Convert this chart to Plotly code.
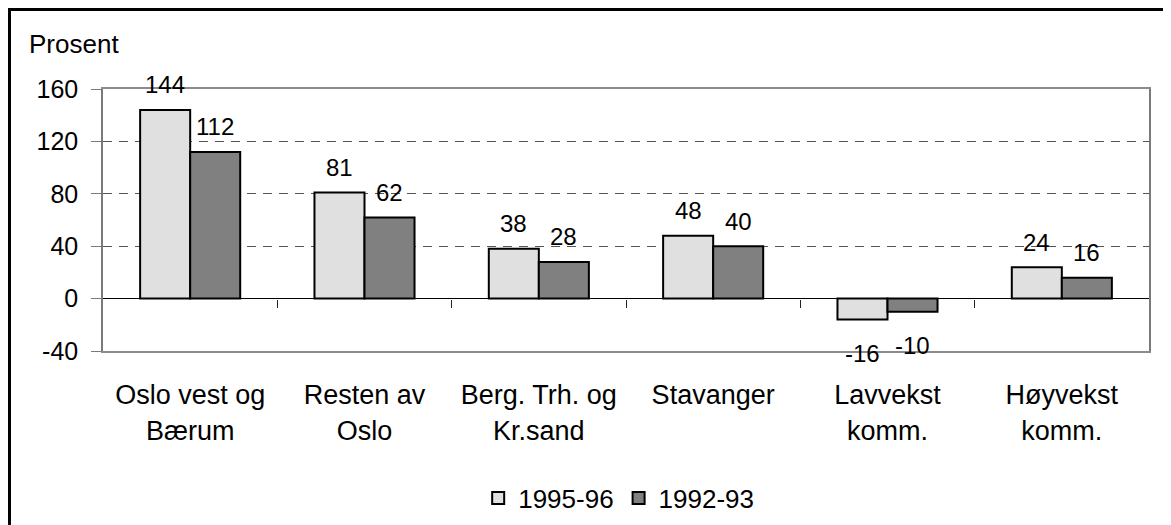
import plotly.graph_objects as go

categories = ["Oslo vest og<br>Bærum", "Resten av<br>Oslo", "Berg. Trh. og<br>Kr.sand",
              "Stavanger", "Lavvekst<br>komm.", "Høyvekst<br>komm."]
vals_9596 = [144, 81, 38, 48, -16, 24]
vals_9293 = [112, 62, 28, 40, -10, 16]
y_ticks = [-40, 0, 40, 80, 120, 160]
y_ticktext = ["-40", "0", "40", "80", "120", "160"]

FONT = "Liberation Sans, Arial, sans-serif"

fig = go.Figure()
fig.add_trace(go.Bar(x=categories, y=vals_9596, name="1995-96",
                     marker_color="#e0e0e0", marker_line_color="black", marker_line_width=2))
fig.add_trace(go.Bar(x=categories, y=vals_9293, name="1992-93",
                     marker_color="#808080", marker_line_color="black", marker_line_width=2))

# value labels (Excel style: above positive bars, well below negative ones)
for vals, shift in [(vals_9596, -25), (vals_9293, 25)]:
    for c, v in zip(categories, vals):
        fig.add_annotation(x=c, y=v, xshift=shift, yshift=25 if v >= 0 else -34,
                           text=str(v), showarrow=False, yanchor="middle",
                           font=dict(size=24, color="black"))

fig.add_annotation(xref="paper", yref="paper", x=-0.0727, y=1.172, xanchor="left",
                   yanchor="middle", text="Prosent", showarrow=False,
                   font=dict(size=26, color="black"))

# outer frame, only top and left visible like the cropped original
fig.add_shape(type="rect", xref="paper", yref="paper", x0=-0.0894, x1=1.2, y0=-1.5, y1=1.3034,
              line=dict(color="black", width=3), layer="above")

fig.update_layout(
    width=1163, height=517,
    margin=dict(l=95, r=22, t=81, b=174, autoexpand=False),
    paper_bgcolor="white", plot_bgcolor="white",
    font=dict(family=FONT, size=25, color="black"),
    barmode="group", bargap=0.426, bargroupgap=0,
    showlegend=True,
    legend=dict(orientation="h", x=0.493, xanchor="center", y=-0.561, yanchor="middle",
                font=dict(size=26), itemwidth=30, tracegroupgap=0),
    xaxis=dict(showline=True, linecolor="#8c8c8c", linewidth=2, mirror=True, automargin=False,
               ticks="", ticklabelstandoff=19, showgrid=False, tickfont=dict(size=27)),
    xaxis2=dict(overlaying="x", anchor="free", position=0.2, range=[-0.5, 5.5],
                tickvals=[0.5, 1.5, 2.5, 3.5, 4.5], ticks="outside", ticklen=8,
                tickcolor="#222", tickwidth=1, showticklabels=False, showgrid=False,
                showline=False, zeroline=False, automargin=False),
    yaxis=dict(range=[-40, 160], tickvals=y_ticks, ticktext=y_ticktext, showline=True,
               linecolor="#7a7a7a", linewidth=1.5, mirror=True, ticks="outside", ticklen=10,
               tickcolor="#7a7a7a", ticklabelstandoff=8, showgrid=True, gridcolor="#555",
               griddash="9px,7px", gridwidth=1, zeroline=True, zerolinecolor="black",
               zerolinewidth=1, tickfont=dict(size=25), automargin=False),
)
# invisible trace so the second x axis is drawn
fig.add_trace(go.Scatter(x=[-0.5, 5.5], y=[0, 0], xaxis="x2", mode="lines",
                         line=dict(color="rgba(0,0,0,0)"), showlegend=False, hoverinfo="skip"))

fig.write_html("out.html")
